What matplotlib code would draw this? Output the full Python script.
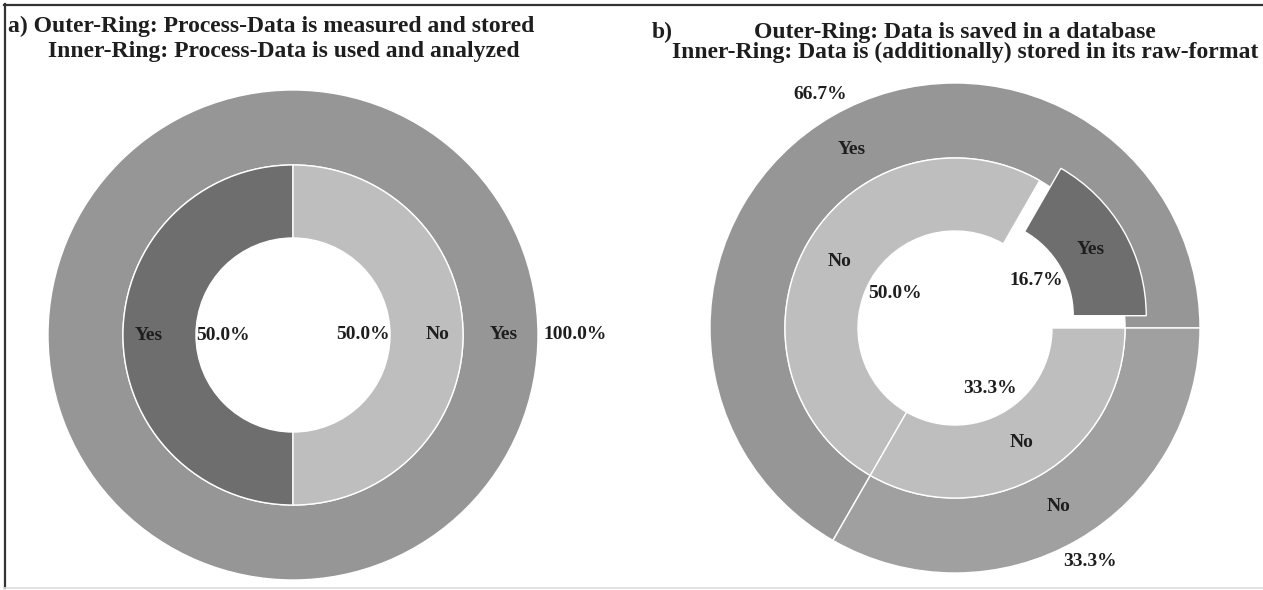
import matplotlib.pyplot as plt
from matplotlib.lines import Line2D

plt.rcParams['font.family'] = ['Liberation Serif', 'DejaVu Serif']
plt.rcParams['font.weight'] = 'bold'

# data (percent of responses)
a_outer_labels = ['Yes']
a_outer_vals = [100.0]
a_inner_labels = ['Yes', 'No']
a_inner_vals = [50.0, 50.0]

b_outer_labels = ['Yes', 'No']
b_outer_vals = [66.7, 33.3]
b_inner_labels = ['Yes', 'No', 'No']
b_inner_vals = [16.7, 50.0, 33.3]

c_outer_yes = '#969696'
c_outer_no = '#a0a0a0'
c_inner_yes = '#6e6e6e'
c_inner_no = '#bebebe'
txt_col = '#1e1e1e'

W, H = 1263, 590
fig = plt.figure(figsize=(W / 100, H / 100), dpi=100)

R_OUT = 245.0  # px for radius 1
LIM = 1.3


def pie_axes(cx, cy):
    # cx, cy in pixels from top-left
    half = R_OUT * LIM
    ax = fig.add_axes([(cx - half) / W, (H - cy - half) / H, 2 * half / W, 2 * half / H])
    ax.set_xlim(-LIM, LIM)
    ax.set_ylim(-LIM, LIM)
    ax.set_aspect('equal')
    ax.axis('off')
    return ax


def style_texts(texts, size=14):
    for t in texts:
        t.set_fontsize(size)
        t.set_fontweight('bold')
        t.set_color(txt_col)
        t.set_ha('center')


wp = dict(edgecolor='white', linewidth=1.0)
inner_r = 0.694
inner_w = 0.298
outer_w = 1 - inner_r

# ---- a) ----
ax1 = pie_axes(293, 335)
_, t1, p1 = ax1.pie(a_outer_vals, labels=a_outer_labels, colors=[c_outer_yes],
                    radius=1.0, startangle=180, counterclock=True,
                    autopct='%1.1f%%', labeldistance=0.86, pctdistance=1.15,
                    wedgeprops=dict(width=outer_w, **wp))
_, t2, p2 = ax1.pie(a_inner_vals, labels=a_inner_labels, colors=[c_inner_yes, c_inner_no],
                    radius=inner_r, startangle=90, counterclock=True,
                    autopct='%1.1f%%', labeldistance=0.85, pctdistance=0.41,
                    wedgeprops=dict(width=inner_w, **wp))
ax1.set_xlim(-LIM, LIM)
ax1.set_ylim(-LIM, LIM)
for grp in (t1, p1, t2, p2):
    style_texts(grp)

# ---- b) ----
ax2 = pie_axes(955, 328)
_, t3, p3 = ax2.pie(b_outer_vals, labels=b_outer_labels, colors=[c_outer_yes, c_outer_no],
                    radius=1.0, startangle=0, counterclock=True,
                    autopct='%1.1f%%', labeldistance=0.84, pctdistance=1.10,
                    wedgeprops=dict(width=outer_w, **wp))
_, t4, p4 = ax2.pie(b_inner_vals, labels=b_inner_labels,
                    colors=[c_inner_yes, c_inner_no, c_inner_no],
                    radius=inner_r, startangle=0, counterclock=True, explode=[0.1, 0, 0],
                    autopct='%1.1f%%', labeldistance=0.78, pctdistance=0.41,
                    wedgeprops=dict(width=inner_w, **wp))
ax2.set_xlim(-LIM, LIM)
ax2.set_ylim(-LIM, LIM)
for grp in (t3, p3, t4, p4):
    style_texts(grp)

# ---- titles ----
title_size = 17


def ftext(x, y, s):
    fig.text(x / W, 1 - y / H, s, ha='left', va='baseline', fontsize=title_size,
             fontweight='bold', color=txt_col)


ftext(8, 32, 'a) Outer-Ring: Process-Data is measured and stored')
ftext(48, 57, 'Inner-Ring: Process-Data is used and analyzed')
ftext(652, 38, 'b)')
ftext(754, 38, 'Outer-Ring: Data is saved in a database')
ftext(672, 58, 'Inner-Ring: Data is (additionally) stored in its raw-format')

# ---- frame ----
fig.add_artist(Line2D([4 / W, 1], [1 - 4.5 / H, 1 - 4.5 / H], color='#333333', lw=1.6))
fig.add_artist(Line2D([4.5 / W, 4.5 / W], [1 - 4 / H, 1 - 588 / H], color='#333333', lw=1.6))
fig.add_artist(Line2D([4 / W, 1], [1 - 588 / H, 1 - 588 / H], color='#dddddd', lw=1.2))

fig.savefig('out.png', dpi=100, facecolor='white')
